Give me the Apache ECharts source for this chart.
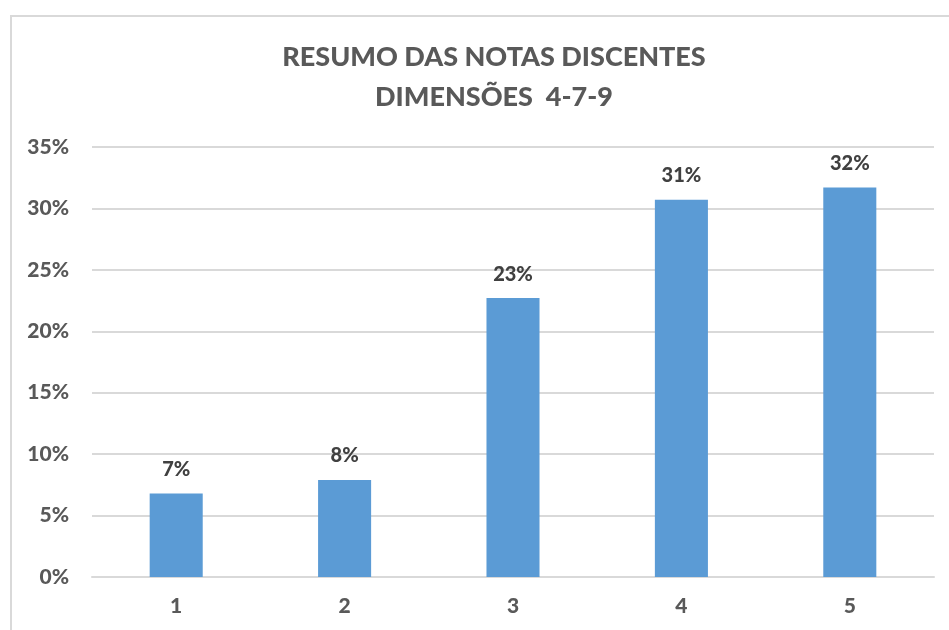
<!DOCTYPE html>
<html>
<head>
<meta charset="utf-8">
<script src="https://cdn.jsdelivr.net/npm/echarts@6/dist/echarts.min.js"></script>
<style>
  html, body { margin: 0; padding: 0; background: #fff; }
  #frame { position: absolute; left: 10px; top: 15px; width: 960px; height: 640px; border: 2px solid #d9d9d9; box-sizing: border-box; }
  #chart { position: absolute; left: 0; top: 0; width: 949px; height: 630px; }
</style>
</head>
<body>
<div id="frame"></div>
<div id="chart"></div>
<script>
// notas 1 a 5
var categories = ['1', '2', '3', '4', '5'];
// percentuais
var values = [6.8, 7.9, 22.7, 30.7, 31.7];
var yTicks = [0, 5, 10, 15, 20, 25, 30, 35];

var fontName = 'Lato';
var option = {
    title: {
        text: 'RESUMO DAS NOTAS DISCENTES\nDIMENSÕES  4-7-9',
        left: 489,
        top: 32,
        textAlign: 'center',
        textStyle: {
            fontFamily: fontName,
            fontSize: 27,
            fontWeight: 900,
            color: '#595959',
            lineHeight: 40
        }
    },
    grid: {
        left: 92,
        right: 15,
        top: 147,
        bottom: 53
    },
    xAxis: {
        type: 'category',
        data: categories,
        axisLine: { lineStyle: { color: '#d9d9d9', width: 2 } },
        axisTick: { show: false },
        axisLabel: {
            margin: 19,
            fontFamily: fontName,
            fontSize: 21,
            fontWeight: 900,
            color: '#595959'
        }
    },
    yAxis: {
        type: 'value',
        min: yTicks[0],
        max: yTicks[yTicks.length - 1],
        interval: 5,
        axisLine: { show: false },
        axisTick: { show: false },
        splitLine: { lineStyle: { color: '#d9d9d9', width: 2 } },
        axisLabel: {
            margin: 23,
            fontFamily: fontName,
            fontSize: 21,
            fontWeight: 900,
            color: '#595959',
            formatter: '{value}%'
        }
    },
    series: [{
        type: 'bar',
        data: values,
        barWidth: '31.5%',
        itemStyle: { color: '#5b9bd5' },
        label: {
            show: true,
            position: 'top',
            distance: 14,
            fontFamily: fontName,
            fontSize: 20,
            fontWeight: 900,
            color: '#404040',
            formatter: function (p) { return Math.round(p.value) + '%'; }
        }
    }]
};

var myChart = echarts.init(document.getElementById('chart'));
myChart.setOption(option);
</script>
</body>
</html>
